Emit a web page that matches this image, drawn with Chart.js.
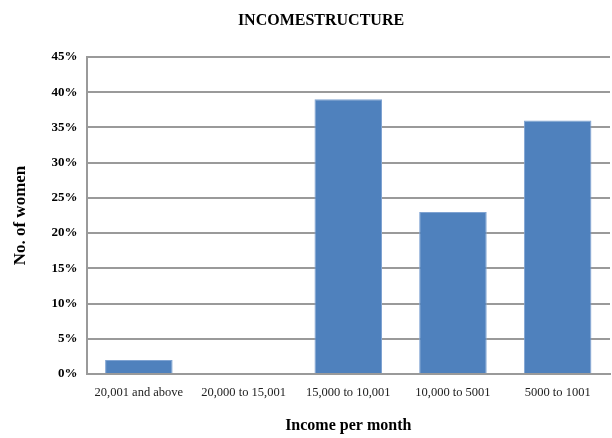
<!DOCTYPE html>
<html>
<head>
<meta charset="utf-8">
<script src="https://cdn.jsdelivr.net/npm/chart.js@4/dist/chart.umd.min.js"></script>
<style>
html,body{margin:0;padding:0;background:#fff;}
#c{display:block;}
</style>
</head>
<body>
<canvas id="c" width="612" height="438"></canvas>
<script>
const chartTitle = 'INCOMESTRUCTURE';
const categories = ['20,001 and above', '20,000 to 15,001', '15,000 to 10,001', '10,000 to 5001', '5000 to 1001'];
const shareOfWomen = [2, 0, 39, 23, 36];
const yTickMin = 0, yTickMax = 45, yTickStep = 5;
const xAxisTitle = 'Income per month';
const yAxisTitle = 'No. of women';

const SERIF = '"Liberation Serif", "Times New Roman", serif';
const GRID = '#9a9a9a';

const titleText = {
  id: 'titleText',
  afterDraw(chart) {
    const ctx = chart.ctx;
    ctx.save();
    ctx.fillStyle = '#000';
    ctx.font = 'bold 16px ' + SERIF;
    ctx.textAlign = 'center';
    ctx.textBaseline = 'middle';
    ctx.fillText(chartTitle, 321, 21);
    ctx.restore();
  }
};

new Chart(document.getElementById('c'), {
  type: 'bar',
  data: {
    labels: categories,
    datasets: [{
      data: shareOfWomen,
      backgroundColor: '#4F81BD',
      borderColor: '#7fa3d2',
      borderWidth: 1,
      barPercentage: 0.645,
      categoryPercentage: 1.0
    }]
  },
  plugins: [titleText],
  options: {
    responsive: false,
    animation: false,
    layout: { padding: { left: 0, right: 2, top: 57, bottom: 0 } },
    plugins: {
      legend: { display: false },
      tooltip: { enabled: false },
      title: { display: false }
    },
    scales: {
      x: {
        grid: { display: false, drawTicks: false },
        border: { display: true, color: GRID, width: 2 },
        ticks: {
          color: '#222',
          font: { family: SERIF, size: 12.5 },
          padding: 11,
          maxRotation: 0,
          autoSkip: false
        },
        title: {
          display: true,
          text: xAxisTitle,
          color: '#000',
          font: { family: SERIF, size: 16, weight: 'bold' },
          padding: { top: 0, bottom: 3 }
        },
        afterFit: s => { s.height = 64; }
      },
      y: {
        min: yTickMin,
        max: yTickMax,
        grid: { color: GRID, lineWidth: 2, drawTicks: false },
        border: { display: true, color: GRID, width: 2 },
        ticks: {
          stepSize: yTickStep,
          color: '#000',
          font: { family: SERIF, size: 13, weight: 'bold' },
          padding: 9,
          callback: v => v + '%'
        },
        title: {
          display: true,
          text: yAxisTitle,
          color: '#000',
          font: { family: SERIF, size: 17, weight: 'bold' },
          padding: { top: 10, bottom: 0 }
        },
        afterFit: s => { s.width = 86.5; }
      }
    }
  }
});
</script>
</body>
</html>
